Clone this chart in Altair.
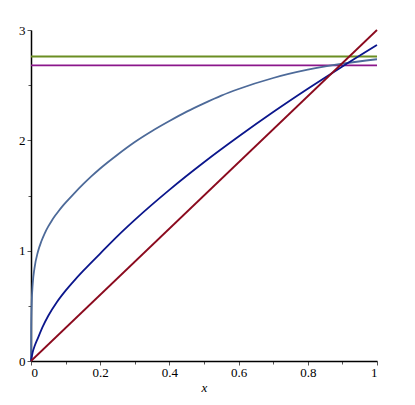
import altair as alt
import pandas as pd

red_x = [0.0, 1.0]
red_y = [0.0, 3.0]

navy_x = [0, 0.005, 0.01, 0.02, 0.035, 0.05, 0.075, 0.1, 0.125, 0.15, 0.2, 0.25, 0.3, 0.4, 0.5, 0.6, 0.7, 0.8, 0.9, 1.0]
navy_y = [0, 0.082, 0.131, 0.208, 0.318, 0.41, 0.535, 0.638, 0.729, 0.814, 0.974, 1.132, 1.279, 1.551, 1.801, 2.034,
          2.256, 2.467, 2.670, 2.865]

slate_x = [0, 0.0005, 0.002, 0.005, 0.01, 0.02, 0.03, 0.04, 0.05, 0.06, 0.07, 0.08, 0.09, 0.1, 0.125, 0.15, 0.175,
           0.2, 0.25, 0.3, 0.35, 0.4, 0.45, 0.5, 0.55, 0.6, 0.7, 0.8, 0.9, 1.0]
slate_y = [0, 0.3, 0.52, 0.70, 0.84, 0.99, 1.085, 1.16, 1.22, 1.272, 1.318, 1.36, 1.399, 1.435, 1.52, 1.60, 1.675,
           1.745, 1.87, 1.985, 2.085, 2.175, 2.26, 2.335, 2.405, 2.465, 2.565, 2.64, 2.695, 2.735]

green_level = 2.76
purple_level = 2.68

series_names = ["green", "purple", "slate", "navy", "red"]
series_colors = ["#6B8E23", "#8B178B", "#4D6A99", "#0B168C", "#8B0A1E"]

rows = []
for x in [0.0, 1.0]:
    rows.append({"s": "green", "x": x, "y": green_level})
    rows.append({"s": "purple", "x": x, "y": purple_level})
for x, y in zip(slate_x, slate_y):
    rows.append({"s": "slate", "x": x, "y": y})
for x, y in zip(navy_x, navy_y):
    rows.append({"s": "navy", "x": x, "y": y})
for x, y in zip(red_x, red_y):
    rows.append({"s": "red", "x": x, "y": y})
df = pd.DataFrame(rows)

x_ticks = [0, 0.1, 0.2, 0.3, 0.4, 0.5, 0.6, 0.7, 0.8, 0.9, 1]
y_ticks = [0, 0.5, 1, 1.5, 2, 2.5, 3]

font = "Liberation Serif"

chart = alt.Chart(df).mark_line(strokeWidth=1.8, interpolate="monotone").encode(
    x=alt.X("x:Q", scale=alt.Scale(domain=[0, 1], nice=False, zero=False),
            axis=alt.Axis(values=x_ticks, format="~g", grid=False, title="x",
                          labelExpr="round(datum.value*10)%2==0 ? datum.label : ''",
                          tickSize={"condition": {"test": "round(datum.value*10)%2==0", "value": 4}, "value": 3},
                          domainColor="black", tickColor="#555555", labelColor="black",
                          labelFont=font, labelFontSize=13, labelPadding=1,
                          titleFont=font, titleFontSize=13, titleFontStyle="italic",
                          titleFontWeight="normal", titleColor="black", titlePadding=2)),
    y=alt.Y("y:Q", scale=alt.Scale(domain=[0, 3], nice=False, zero=False),
            axis=alt.Axis(values=y_ticks, format="~g", grid=False, title=None,
                          labelExpr="datum.value % 1 == 0 ? datum.label : ''",
                          tickSize={"condition": {"test": "datum.value % 1 == 0", "value": 4}, "value": 3},
                          domainColor="black", tickColor="#555555", labelColor="black",
                          labelFont=font, labelFontSize=13, labelPadding=2)),
    color=alt.Color("s:N", scale=alt.Scale(domain=series_names, range=series_colors), legend=None),
    detail="s:N",
).properties(
    width=346, height=331,
    autosize=alt.AutoSizeParams(type="none"),
    padding={"left": 23, "top": 22, "right": 30, "bottom": 40},
).configure_view(stroke=None).configure_axis(domainWidth=1.5)

chart.save("out.html", embed_options={"renderer": "svg", "actions": False})
